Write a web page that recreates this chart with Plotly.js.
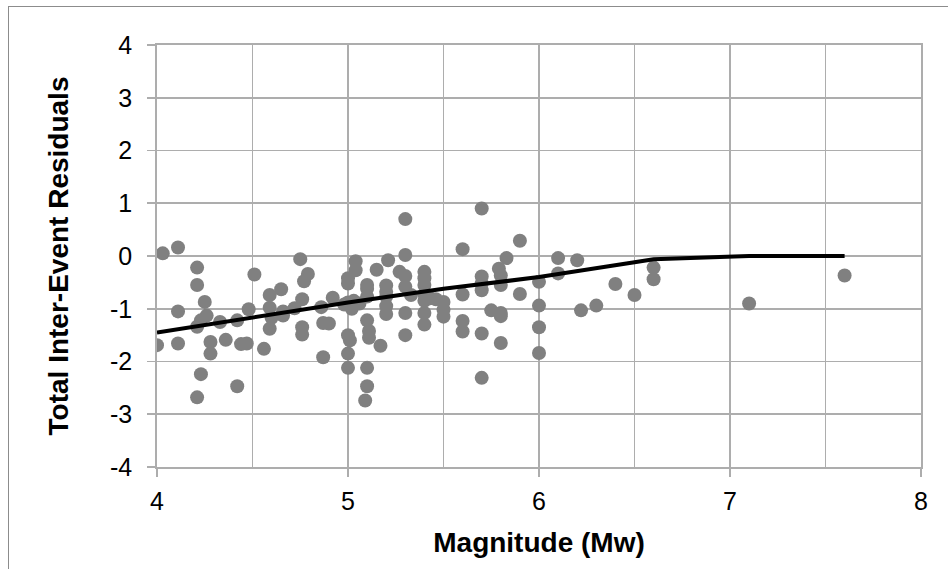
<!DOCTYPE html>
<html>
<head>
<meta charset="utf-8">
<script src="https://cdn.plot.ly/plotly-3.0.1.min.js"></script>
<style>
  html, body { margin: 0; padding: 0; background: #ffffff; }
  #wrap { position: relative; width: 948px; height: 569px; overflow: hidden; }
  #frame { position: absolute; left: 8px; top: 6px; width: 1200px; height: 900px;
           border-left: 1.5px solid #8c8c8c; border-top: 1.5px solid #8c8c8c; }
  #chart { position: absolute; left: 0; top: 0; width: 948px; height: 569px; }
</style>
</head>
<body>
<div id="wrap">
  <div id="frame"></div>
  <div id="chart"></div>
</div>
<script>
// Observed inter-event residuals vs magnitude
const magnitude = [
  4.03, 4.11, 4.21, 4.21, 4.25, 4.11, 4.00, 4.11, 4.21, 4.23,
  4.26, 4.28, 4.28, 4.23, 4.21, 4.33, 4.36, 4.42, 4.42, 4.44,
  4.47, 4.48, 4.51, 4.56, 4.59, 4.59, 4.60, 4.59, 4.65, 4.66,
  4.66, 4.72, 4.75, 4.79, 4.77, 4.76, 4.76, 4.76, 4.86, 4.87,
  4.90, 4.87, 4.92,
  5.00, 5.00, 5.00, 4.98, 5.03, 5.02, 5.00, 5.01, 5.00, 5.00,
  5.04, 5.04, 5.06, 5.10, 5.10, 5.10, 5.10, 5.11, 5.11, 5.10,
  5.10, 5.09, 5.15, 5.17, 5.20, 5.20, 5.20, 5.20, 5.20, 5.21,
  5.27, 5.30, 5.30, 5.30, 5.30, 5.33, 5.30, 5.30,
  5.40, 5.40, 5.40, 5.40, 5.40, 5.40, 5.40, 5.43, 5.46, 5.50,
  5.50, 5.50, 5.60, 5.60, 5.60, 5.60,
  5.70, 5.70, 5.70, 5.70, 5.70, 5.70, 5.75, 5.80, 5.80, 5.80,
  5.79, 5.80, 5.80, 5.83, 5.90, 5.90,
  6.00, 6.00, 6.00, 6.00, 6.10, 6.10, 6.20, 6.22, 6.30, 6.40,
  6.50, 6.60, 6.60, 7.10, 7.60
];
const residual = [
  0.05, 0.16, -0.22, -0.55, -0.87, -1.05, -1.69, -1.66, -1.34, -1.22,
  -1.13, -1.63, -1.85, -2.24, -2.68, -1.25, -1.59, -1.22, -2.47, -1.67,
  -1.66, -1.01, -0.35, -1.76, -0.74, -0.98, -1.17, -1.38, -0.63, -1.05,
  -1.13, -0.99, -0.06, -0.34, -0.48, -0.82, -1.35, -1.49, -0.97, -1.27,
  -1.28, -1.92, -0.79,
  -0.42, -0.52, -0.88, -0.92, -0.85, -1.00, -1.50, -1.60, -1.85, -2.12,
  -0.10, -0.27, -0.90, -0.55, -0.62, -0.77, -1.22, -1.42, -1.55, -2.12,
  -2.47, -2.74, -0.26, -1.70, -0.56, -0.68, -0.77, -0.95, -1.10, -0.08,
  -0.30, 0.70, 0.02, -0.38, -0.58, -0.74, -1.08, -1.50,
  -0.30, -0.42, -0.55, -0.72, -0.85, -1.08, -1.30, -0.80, -0.82, -0.87,
  -1.02, -1.15, 0.13, -0.73, -1.23, -1.43,
  0.90, -0.39, -0.52, -0.65, -1.47, -2.31, -1.03, -1.08, -1.14, -1.65,
  -0.24, -0.37, -0.55, -0.04, 0.29, -0.72,
  -0.49, -0.94, -1.35, -1.84, -0.04, -0.33, -0.08, -1.03, -0.94, -0.53,
  -0.74, -0.22, -0.44, -0.90, -0.37
];
// Fitted trend
const fitMagnitude = [4.0, 4.5, 5.0, 5.5, 6.0, 6.5, 6.6, 7.1, 7.6];
const fitResidual  = [-1.45, -1.17, -0.88, -0.62, -0.40, -0.12, -0.06, 0.0, 0.0];

const xTicks = [4, 5, 6, 7, 8];
const yTicks = [-4, -3, -2, -1, 0, 1, 2, 3, 4];

const FONT = 'Liberation Sans, Arial, sans-serif';
const GRID = '#adadad';

const traces = [
  {
    type: 'scatter', mode: 'markers',
    x: magnitude, y: residual,
    marker: { color: '#808080', size: 14, line: { width: 0 } },
    hoverinfo: 'x+y', showlegend: false
  },
  {
    type: 'scatter', mode: 'lines',
    x: fitMagnitude, y: fitResidual,
    line: { color: '#000000', width: 4 },
    hoverinfo: 'x+y', showlegend: false
  }
];

const layout = {
  width: 948, height: 569,
  margin: { l: 157, r: 27, t: 45, b: 102 },
  paper_bgcolor: 'rgba(0,0,0,0)',
  plot_bgcolor: '#ffffff',
  showlegend: false,
  font: { family: FONT, color: '#000000' },
  xaxis: {
    range: [4, 8],
    tickmode: 'array', tickvals: xTicks, ticktext: xTicks.map(String),
    ticks: 'outside', ticklen: 8, tickwidth: 1.75, tickcolor: GRID,
    ticklabelstandoff: 3,
    tickfont: { family: FONT, size: 25, color: '#000000' },
    showgrid: true, gridcolor: GRID, gridwidth: 1.75,
    minor: { dtick: 0.5, tick0: 4, showgrid: true, gridcolor: GRID, gridwidth: 1.75, ticks: '' },
    zeroline: false,
    showline: true, linecolor: GRID, linewidth: 1.75, mirror: true,
    title: { text: 'Magnitude (Mw)', standoff: 19,
             font: { family: FONT, size: 28, weight: 'bold', color: '#000000' } }
  },
  yaxis: {
    range: [-4, 4],
    tickmode: 'array', tickvals: yTicks, ticktext: yTicks.map(String),
    ticks: 'outside', ticklen: 8, tickwidth: 1.75, tickcolor: GRID,
    ticklabelstandoff: 10,
    tickfont: { family: FONT, size: 25, color: '#000000' },
    showgrid: true, gridcolor: GRID, gridwidth: 1.75,
    zeroline: false,
    showline: true, linecolor: GRID, linewidth: 1.75, mirror: true,
    title: { text: 'Total Inter-Event Residuals', standoff: 33,
             font: { family: FONT, size: 28, weight: 'bold', color: '#000000' } }
  }
};

Plotly.newPlot('chart', traces, layout, { displayModeBar: false, staticPlot: true });
</script>
</body>
</html>
